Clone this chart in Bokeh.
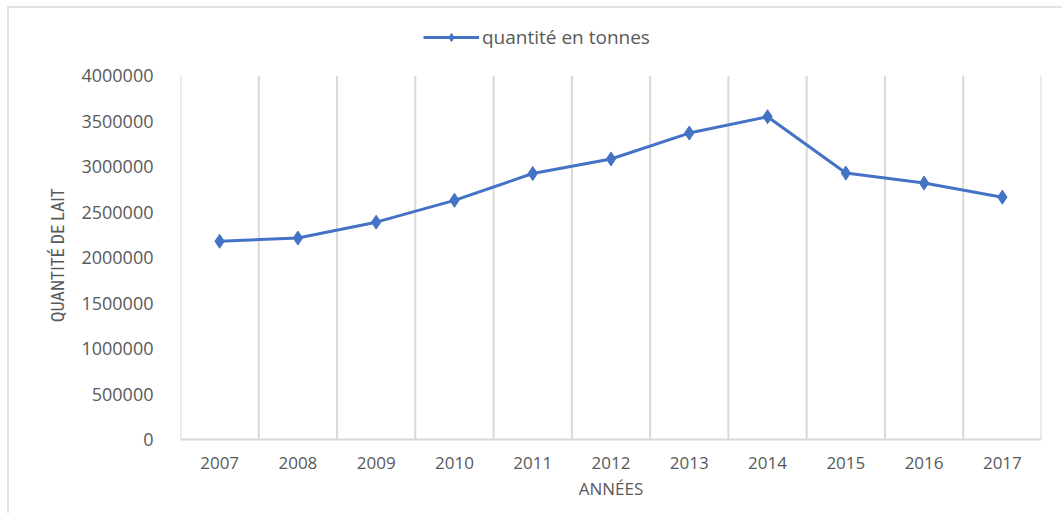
import math
from bokeh.plotting import figure
from bokeh.layouts import row
from bokeh.models import FixedTicker, Legend, LegendItem
from bokeh.core.properties import value
from bokeh.embed import file_html
from bokeh.resources import INLINE

years = ["2007", "2008", "2009", "2010", "2011", "2012", "2013", "2014", "2015", "2016", "2017"]
quantite = [2180000, 2215000, 2390000, 2630000, 2925000, 3085000, 3370000, 3550000, 2930000, 2820000, 2665000]
y_ticks = [0, 500000, 1000000, 1500000, 2000000, 2500000, 3000000, 3500000, 4000000]
y_title = "QUANTITÉ DE LAIT"
x_title = "ANNÉES"
series_name = "quantité en tonnes"

xs = list(range(len(years)))
blue = "#4472C4"
gray = "#595959"
border = "2px solid #E3E3E3"

y_max = 4000000
# frame extends above the top tick so the legend fits inside it (not clipped)
y_end = y_max * 417 / 362

# narrow strip on the left carrying the vertical axis title
strip = figure(width=68, height=507, output_backend="svg", toolbar_location=None,
               x_range=(0, 1), y_range=(0, 1), x_axis_type=None, y_axis_type=None,
               min_border=0)
strip.margin = (6, 0, 0, 7)
strip.styles = {"border-left": border, "border-top": border}
strip.outline_line_color = None
strip.xgrid.visible = False
strip.ygrid.visible = False
strip.text(x=[0.70], y=[0.44], text=[y_title], angle=math.pi / 2,
           text_align="center", text_baseline="middle",
           text_font=value("Roboto Condensed"), text_font_size="18px", text_color=gray)

p = figure(width=987, height=507, output_backend="svg", toolbar_location=None,
           x_range=(-0.5, len(years) - 0.5), y_range=(0, y_end),
           min_border_left=105, min_border_right=21, min_border_top=12, min_border_bottom=76)
p.margin = (6, 0, 0, 0)
p.styles = {"border-top": border}
p.outline_line_color = None
p.background_fill_color = "white"
p.border_fill_color = "white"

# vertical grid lines at category boundaries, from 0 to the top tick
bounds = [i - 0.5 for i in range(len(years) + 1)]
p.segment(x0=bounds, y0=[0] * len(bounds), x1=bounds, y1=[y_max] * len(bounds),
          line_color="#D9D9D9", line_width=2)

line = p.line(xs, quantite, line_color=blue, line_width=3)
pts = p.scatter(xs, quantite, marker="diamond", size=14, fill_color=blue, line_color=blue)

# axes
p.xaxis.ticker = FixedTicker(ticks=xs)
p.xaxis.major_label_overrides = {i: y for i, y in enumerate(years)}
p.yaxis.ticker = FixedTicker(ticks=y_ticks)
p.yaxis.formatter.use_scientific = False
for ax in (p.xaxis[0], p.yaxis[0]):
    ax.major_tick_line_color = None
    ax.minor_tick_line_color = None
    ax.major_label_text_color = gray
    ax.major_label_text_font = "Open Sans"
    ax.axis_label_text_color = gray
    ax.axis_label_text_font_style = "normal"
p.xaxis.major_label_text_font_size = "17px"
p.yaxis.major_label_text_font_size = "18px"
p.yaxis.axis_line_color = None
p.xaxis.axis_line_color = "#D9D9D9"
p.xaxis.axis_line_width = 2
p.xaxis.major_label_standoff = 11
p.yaxis.major_label_standoff = 21
p.xaxis.axis_label = x_title
p.xaxis.axis_label_text_font = "Open Sans"
p.xaxis.axis_label_text_font_size = "17px"
p.xaxis.axis_label_standoff = 5

p.xgrid.grid_line_color = None
p.ygrid.grid_line_color = None

# legend
legend = Legend(items=[LegendItem(label=series_name, renderers=[line, pts])],
                orientation="horizontal", location=(243, 389),
                label_text_font="Open Sans", label_text_font_size="19px",
                label_text_color=gray, border_line_color=None, background_fill_alpha=0,
                glyph_width=56, label_standoff=3, padding=0, margin=0)
p.add_layout(legend)

layout = row(strip, p, spacing=0)
open("out.html", "w").write(file_html(layout, INLINE))
